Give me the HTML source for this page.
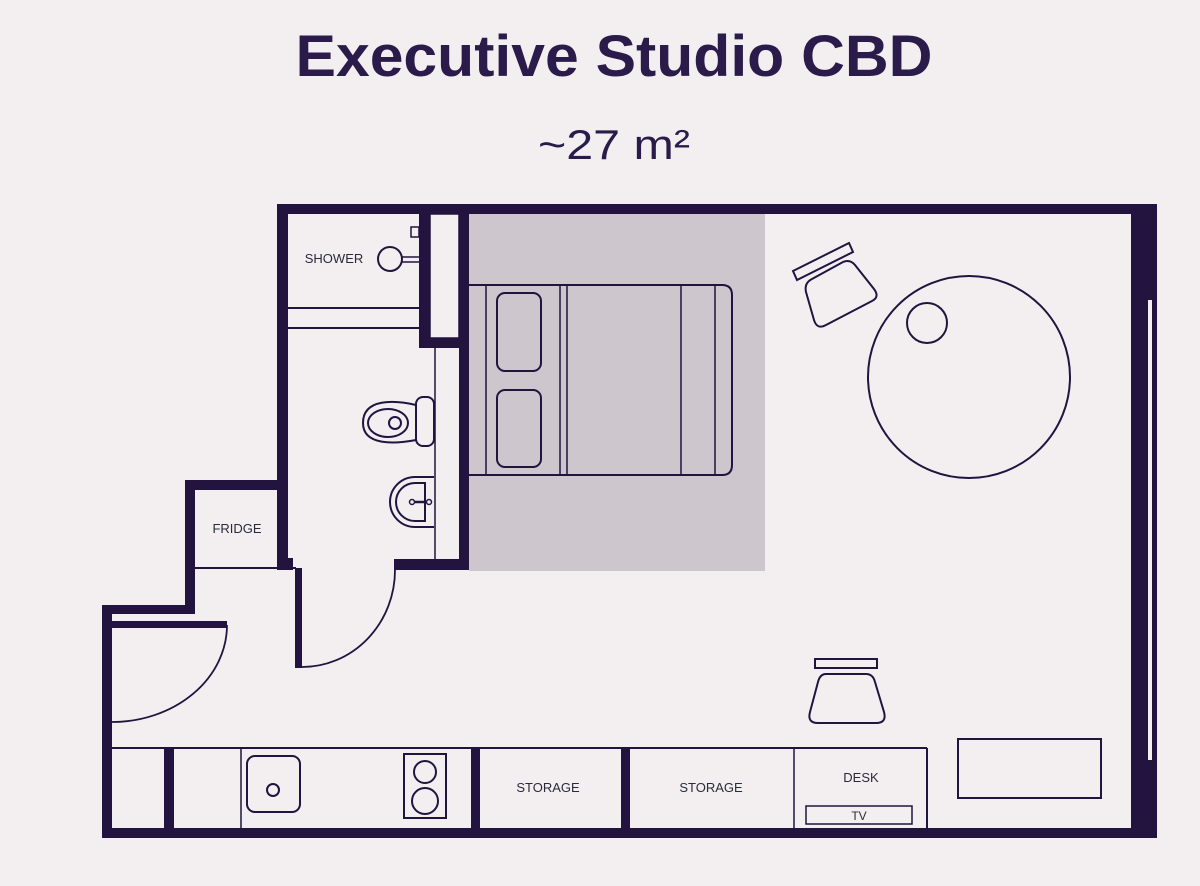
<!DOCTYPE html>
<html><head><meta charset="utf-8"><style>
html,body{margin:0;padding:0;background:#f3eff1;}
svg{display:block}
</style></head><body>
<svg width="1200" height="886" viewBox="0 0 1200 886" xmlns="http://www.w3.org/2000/svg">
<rect width="1200" height="886" fill="#f3eff1"/>
<text x="614" y="76" text-anchor="middle" font-family="Liberation Sans, sans-serif" font-weight="bold" font-size="58" fill="#2a1b4a" textLength="637" lengthAdjust="spacingAndGlyphs">Executive Studio CBD</text>
<text x="614" y="159" text-anchor="middle" font-family="Liberation Sans, sans-serif" font-size="42" fill="#2a1b4a" textLength="152" lengthAdjust="spacingAndGlyphs">~27 m²</text>

<!-- gray bed zone -->
<rect x="469" y="214" width="296" height="357" fill="#cdc6cd"/>

<g fill="#22133f">
<!-- top wall -->
<rect x="277" y="204" width="880" height="10"/>
<!-- right wall -->
<rect x="1131" y="204" width="26" height="634"/>
<!-- bottom wall -->
<rect x="102" y="828" width="1055" height="10"/>
<!-- bathroom left wall -->
<rect x="277" y="204" width="11" height="366"/>
<rect x="280" y="558" width="13" height="12"/>
<!-- door leaf bathroom -->
<rect x="295" y="568" width="7" height="100"/>
<!-- fridge walls -->
<rect x="185" y="480" width="103" height="10"/>
<rect x="185" y="480" width="10" height="134"/>
<rect x="102" y="605" width="93" height="9"/>
<rect x="102" y="605" width="10" height="233"/>
<!-- left door leaf -->
<rect x="112" y="621" width="115" height="7"/>
<!-- inner shower walls -->
<rect x="419" y="214" width="11" height="134"/>
<rect x="419" y="338" width="50" height="10"/>
<rect x="459" y="214" width="10" height="356"/>
<rect x="394" y="559" width="75" height="11"/>
<!-- counter dividers -->
<rect x="164" y="748" width="10" height="80"/>
<rect x="471" y="748" width="9" height="80"/>
<rect x="621" y="748" width="9" height="80"/>
</g>
<!-- window line -->
<rect x="1148" y="300" width="4" height="460" fill="#f3eff1"/>

<g fill="none" stroke="#22133f" stroke-width="2">
<!-- closet box -->
<rect x="430" y="214" width="29" height="124" fill="#f3eff1" stroke-width="1.5"/>
<!-- shower lines -->
<line x1="288" y1="308" x2="419" y2="308"/>
<line x1="288" y1="328" x2="419" y2="328"/>
<!-- shower head -->
<circle cx="390" cy="259" r="12"/>
<line x1="402" y1="257" x2="419" y2="257" stroke-width="1.5"/>
<line x1="402" y1="262" x2="419" y2="262" stroke-width="1.5"/>
<rect x="411" y="227" width="8" height="10" stroke-width="1.5"/>
<!-- vanity line -->
<line x1="435" y1="348" x2="435" y2="559" stroke-width="1.5"/>
<!-- toilet -->
<rect x="416" y="397" width="18" height="49" rx="7"/>
<path d="M416,405 C395,400 363,398 363,423 C363,446 395,444 416,440"/>
<ellipse cx="388" cy="423" rx="20" ry="14"/>
<circle cx="395" cy="423" r="6"/>
<!-- sink -->
<path d="M434,477 L415,477 A25,25 0 0 0 415,527 L434,527"/>
<path d="M425,483 L415,483 A19,19 0 0 0 415,521 L425,521 Z"/>
<circle cx="412" cy="502" r="2.5" stroke-width="1.5"/>
<circle cx="429" cy="502" r="2.5" stroke-width="1.5"/>
<line x1="414" y1="502" x2="427" y2="502" stroke-width="2.5"/>
<!-- fridge bottom -->
<line x1="195" y1="568" x2="296" y2="568"/>
<!-- door arcs -->
<path d="M302,667 A93,97 0 0 0 395,570" stroke-width="1.8"/>
<path d="M112,722 A115,97 0 0 0 227,625" stroke-width="1.8"/>
<!-- counter -->
<line x1="112" y1="748" x2="927" y2="748"/>
<line x1="241" y1="748" x2="241" y2="828" stroke-width="1.5"/>
<line x1="794" y1="748" x2="794" y2="828" stroke-width="1.5"/>
<line x1="927" y1="748" x2="927" y2="828"/>
<rect x="247" y="756" width="53" height="56" rx="8"/>
<circle cx="273" cy="790" r="6"/>
<rect x="404" y="754" width="42" height="64"/>
<circle cx="425" cy="772" r="11"/>
<circle cx="425" cy="801" r="13"/>
<rect x="806" y="806" width="106" height="18" stroke-width="1.5"/>
<!-- tv unit -->
<rect x="958" y="739" width="143" height="59"/>
<!-- lower chair -->
<rect x="815" y="659" width="62" height="9"/>
<path d="M826,674 L866,674 Q873,674 875,682 L884,712 Q887,723 876,723 L818,723 Q807,723 810,712 L818,682 Q820,674 826,674 Z"/>
<!-- bed -->
<path d="M469,285 L722,285 Q732,285 732,295 L732,465 Q732,475 722,475 L469,475" />
<line x1="486" y1="285" x2="486" y2="475" stroke-width="1.5"/>
<line x1="560" y1="285" x2="560" y2="475" stroke-width="1.5"/>
<line x1="567" y1="285" x2="567" y2="475" stroke-width="1.5"/>
<line x1="681" y1="285" x2="681" y2="475" stroke-width="1.5"/>
<line x1="715" y1="285" x2="715" y2="475" stroke-width="1.5"/>
<rect x="497" y="293" width="44" height="78" rx="8"/>
<rect x="497" y="390" width="44" height="77" rx="8"/>
<!-- top chair -->
<path d="M793,271 L849,243 L853,252 L797,280 Z"/>
<path d="M812,279 L843,262 Q850,259 855,265 L874,289 Q880,297 872,301 L826,325 Q817,330 814,320 L806,292 Q804,283 812,279 Z"/>
<!-- table -->
<circle cx="969" cy="377" r="101"/>
<circle cx="927" cy="323" r="20"/>
</g>

<g font-family="Liberation Sans, sans-serif" font-size="13" fill="#2a2a3a" text-anchor="middle">
<text x="334" y="263">SHOWER</text>
<text x="237" y="533">FRIDGE</text>
<text x="548" y="792">STORAGE</text>
<text x="711" y="792">STORAGE</text>
<text x="861" y="782">DESK</text>
<text x="859" y="820" font-size="12">TV</text>
</g>
</svg>
</body></html>
